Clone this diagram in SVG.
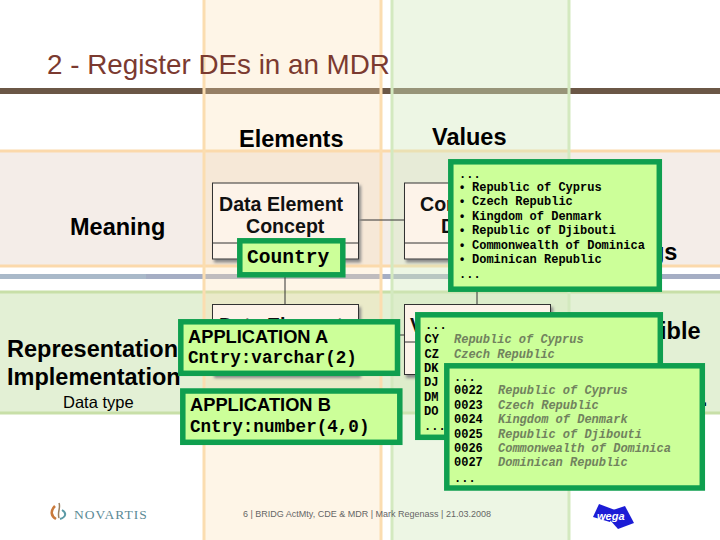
<svg xmlns="http://www.w3.org/2000/svg" width="720" height="540" viewBox="0 0 720 540">
<style>
.sans{font-family:"Liberation Sans",Arial,sans-serif}
.head{font-family:"Liberation Sans",Arial,sans-serif;font-weight:700;font-size:23.500px;fill:#000}
.mono{font-family:"Liberation Mono","Courier New",monospace;font-weight:700;fill:#000}
.list{font-family:"Liberation Mono","Courier New",monospace;font-weight:700;font-size:12px;fill:#000}
.ital{font-family:"Liberation Mono","Courier New",monospace;font-weight:700;font-style:italic;font-size:12px;fill:#71825e}
.pop{fill:#ccff99;stroke:#0f9f4f;stroke-width:5.500}
.box{fill:#fdf3e9;stroke:#333;stroke-width:1}
.line{stroke:#333;stroke-width:1;fill:none}
.dt{font-family:"Liberation Sans",Arial,sans-serif;font-weight:700;font-size:19.600px;fill:#111}
.app{font-family:"Liberation Sans",Arial,sans-serif;font-weight:700;font-size:18.300px;fill:#000}
</style>
<defs><filter id="sh" x="-5%" y="-5%" width="112%" height="115%"><feDropShadow dx="2" dy="3" stdDeviation="1.500" flood-color="#888"/></filter></defs>
<rect width="720" height="540" fill="#fff"/>
<rect x="0" y="151" width="720" height="115" fill="#f4ede8"/>
<path d="M0 151H720M0 266H720" stroke="#fbd9ab" stroke-width="3"/>
<rect x="0" y="274" width="146" height="5" fill="#a9b9c9"/>
<rect x="146" y="274" width="574" height="5" fill="#a5aec4"/>
<rect x="0" y="292" width="720" height="121" fill="#e3f0d5"/>
<path d="M0 292H720M0 413H720" stroke="#c8dfa8" stroke-width="3"/>
<rect x="0" y="88" width="720" height="6" fill="#6b5746"/>
<rect x="204" y="-2" width="177" height="544" fill="#fbddb0" fill-opacity=".3" stroke="#fbddb0" stroke-width="3"/>
<rect x="392" y="-2" width="177" height="544" fill="#d3e9bf" fill-opacity=".42" stroke="#d3e9bf" stroke-width="3"/>
<text class="sans" x="47" y="74" font-size="27.800" fill="#7b3a30">2 - Register DEs in an MDR</text>
<text class="head" x="239" y="146.500">Elements</text>
<text class="head" x="432" y="145">Values</text>
<text class="head" x="70" y="235">Meaning</text>
<text class="head" x="7" y="357">Representation</text>
<text class="head" x="7" y="385">Implementation</text>
<text class="sans" x="63" y="408" font-size="16.500" fill="#000">Data type</text>
<text class="head" x="650" y="260">gs</text>
<text class="head" x="660" y="339">ible</text>
<text class="head" x="701" y="406" font-size="12">.</text>
<g id="connectors">
<path class="line" d="M359 220H405M285 266V304M477 280V304M380 335H405"/>
</g>
<g id="dec">
<rect class="box" x="212.500" y="183" width="146" height="76" filter="url(#sh)"/>
<path class="line" d="M212 243H358"/>
<text class="dt" x="219" y="211">Data Element</text>
<text class="dt" x="246" y="233">Concept</text>
</g>
<g id="conceptual-domain">
<rect class="box" x="404.500" y="183" width="146" height="76" filter="url(#sh)"/>
<path class="line" d="M405 243H551"/>
<text class="dt" x="420" y="211">Conceptual</text>
<text class="dt" x="441" y="233">Domain</text>
</g>
<g id="de">
<rect class="box" x="212.500" y="304.500" width="146" height="70" filter="url(#sh)"/>
<text class="dt" x="219" y="332">Data Element</text>
</g>
<g id="vd">
<rect class="box" x="404.500" y="304.500" width="146" height="70" filter="url(#sh)"/>
<path class="line" d="M405 342H551"/>
<text class="dt" x="410" y="332">Value Domain</text>
</g>
<g id="country">
<rect class="pop" x="239.800" y="240.800" width="103" height="34"/>
<text class="mono" x="247" y="263" font-size="19.600" font-weight="400">Country</text>
</g>
<g id="values">
<rect class="pop" x="450.800" y="161.800" width="208.500" height="127.400"/>
<text class="list" x="459" y="178">...</text>
<text class="list" x="458.500" y="191">•<tspan x="472">Republic of Cyprus</tspan></text>
<text class="list" x="458.500" y="205">•<tspan x="472">Czech Republic</tspan></text>
<text class="list" x="458.500" y="220">•<tspan x="472">Kingdom of Denmark</tspan></text>
<text class="list" x="458.500" y="234">•<tspan x="472">Republic of Djibouti</tspan></text>
<text class="list" x="458.500" y="249">•<tspan x="472">Commonwealth of Dominica</tspan></text>
<text class="list" x="458.500" y="263">•<tspan x="472">Dominican Republic</tspan></text>
<text class="list" x="459" y="278">...</text>
</g>
<g id="app-a">
<rect class="pop" x="180.800" y="321.800" width="216.700" height="51.500"/>
<text class="app" x="188" y="342.500">APPLICATION A</text>
<text class="mono" x="188" y="363" font-size="17.600">Cntry:varchar(2)</text>
</g>
<g id="app-b">
<rect class="pop" x="182.800" y="391" width="217" height="51.300"/>
<text class="app" x="190" y="411">APPLICATION B</text>
<text class="mono" x="190" y="432" font-size="17.600">Cntry:number(4,0)</text>
</g>
<g id="codes-2">
<rect class="pop" x="417.800" y="314.800" width="242.500" height="122.500"/>
<text class="list" x="425" y="329">...</text>
<text class="list" x="424.500" y="343">CY</text><text class="ital" x="454" y="343">Republic of Cyprus</text>
<text class="list" x="424.500" y="358">CZ</text><text class="ital" x="454" y="358">Czech Republic</text>
<text class="list" x="424" y="372">DK</text>
<text class="list" x="424" y="386">DJ</text>
<text class="list" x="424" y="401">DM</text>
<text class="list" x="424" y="415">DO</text>
<text class="list" x="424" y="430">...</text>
</g>
<g id="codes-4">
<rect class="pop" x="446.800" y="365.800" width="255.500" height="122.200"/>
<text class="list" x="454" y="381">...</text>
<text class="list" x="454" y="394">0022</text><text class="ital" x="498" y="394">Republic of Cyprus</text>
<text class="list" x="454" y="409">0023</text><text class="ital" x="498" y="409">Czech Republic</text>
<text class="list" x="454" y="423">0024</text><text class="ital" x="498" y="423">Kingdom of Denmark</text>
<text class="list" x="454" y="438">0025</text><text class="ital" x="498" y="438">Republic of Djibouti</text>
<text class="list" x="454" y="452">0026</text><text class="ital" x="498" y="452">Commonwealth of Dominica</text>
<text class="list" x="454" y="466">0027</text><text class="ital" x="498" y="466">Dominican Republic</text>
<text class="list" x="454" y="482">...</text>
</g>
<text class="sans" x="243" y="517" font-size="9" fill="#666">6 | BRIDG ActMty, CDE &amp; MDR | Mark Regenass | 21.03.2008</text>
<g id="novartis">
<path d="M55 506C50 511 51 516 56 519" fill="none" stroke="#c97a3c" stroke-width="2.500"/>
<path d="M59 503C61 508 57 512 59 518" fill="none" stroke="#9a8060" stroke-width="1.500"/>
<path d="M62 510C67 513 66 517 60 519" fill="none" stroke="#5b9aa6" stroke-width="2"/>
<text x="74" y="519" font-family="Liberation Serif,serif" font-size="13.500" letter-spacing="1" fill="#5b8a96">NOVARTIS</text>
</g>
<g id="wega">
<path d="M599 504L615 510 610 522 593 517z" fill="#1c1cd6"/>
<path d="M613 510L625 506 634 523 618 529 610 520z" fill="#1c1cd6"/>
<text x="597" y="520" font-family="Liberation Sans,sans-serif" font-size="11" font-weight="700" font-style="italic" fill="#fff">wega</text>
</g>
</svg>
